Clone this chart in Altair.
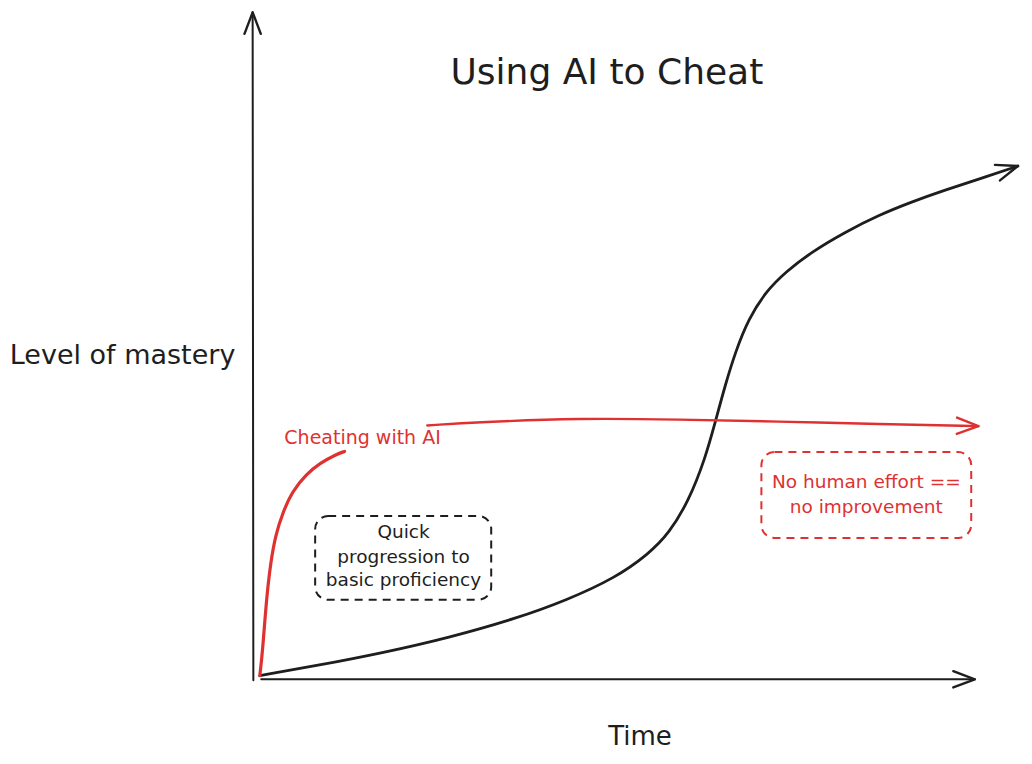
import altair as alt
import pandas as pd

# ---- data (time units on x, mastery units on y) ----
black_t = [0.6, 8.5, 17.6, 26.9, 36.3, 43.2, 50.1, 54.7, 57.5, 60.3, 62.6, 64.0, 65.4,
           66.8, 68.6, 71.0, 73.8, 77.4, 82.1, 86.7, 91.3, 96.0, 100.6, 106.1]
black_m = [0.4, 1.9, 3.8, 6.1, 9.0, 11.7, 15.1, 18.7, 21.7, 26.7, 33.1, 38.6, 44.2,
           49.1, 54.0, 58.1, 61.1, 64.1, 67.1, 69.6, 71.6, 73.4, 75.0, 77.0]

red1_t = [0.6, 1.0, 1.5, 2.1, 2.8, 3.8, 5.1, 7.1, 8.9, 11.3, 12.4]
red1_m = [0.4, 4.2, 11.7, 17.4, 21.6, 24.9, 28.1, 30.7, 32.3, 33.7, 34.1]
red2_t = [23.9, 31.1, 45.0, 58.9, 72.8, 86.7, 100.6]
red2_m = [38.0, 38.5, 39.1, 38.9, 38.6, 38.2, 37.9]

axis_x_t = [0.8, 100.1]
axis_x_m = [-0.15, -0.15]
axis_y_t = [-0.3, -0.4]
axis_y_m = [-0.3, 100.1]

arrow_t = [106.1, 100.6, 100.1, -0.4]
arrow_m = [77.0, 37.9, -0.15, 100.1]
arrow_angle = [342, 1, 0, 270]
arrow_color = ["#1e1e1e", "#e03131", "#1e1e1e", "#1e1e1e"]

label_text = ["Using AI to Cheat", "Level of mastery", "Time", "Cheating with AI",
              "Quick", "progression to", "basic proficiency",
              "No human effort ==", "no improvement"]
label_t = [48.9, -18.5, 53.5, 14.9, 20.6, 20.6, 20.6, 85.0, 85.0]
label_m = [91.0, 48.5, -8.8, 36.1, 22.0, 18.3, 14.7, 29.5, 25.8]
label_size = [36, 27, 26, 19, 18.5, 18.5, 18.5, 18.5, 18.5]
label_color = ["#1e1e1e", "#1e1e1e", "#1e1e1e", "#e03131", "#1e1e1e", "#1e1e1e",
               "#1e1e1e", "#e03131", "#e03131"]

box_t1 = [8.3, 70.4]
box_t2 = [32.8, 99.6]
box_m1 = [24.4, 34.0]
box_m2 = [11.8, 21.1]
box_color = ["#1e1e1e", "#e03131"]

# ---- scales ----
xs = alt.Scale(domain=[-34.444, 106.667], nice=False, zero=False)
ys = alt.Scale(domain=[-11.078, 100.299], nice=False, zero=False)


def X(f="t"):
    return alt.X(f"{f}:Q", scale=xs, axis=None)


def Y(f="m"):
    return alt.Y(f"{f}:Q", scale=ys, axis=None)


def curve(ts, ms):
    return pd.DataFrame({"t": ts, "m": ms, "i": range(len(ts))})


black = alt.Chart(curve(black_t, black_m)).mark_line(
    color="#1e1e1e", strokeWidth=2.8, interpolate="basis", strokeCap="round"
).encode(x=X(), y=Y(), order="i:Q")

red1 = alt.Chart(curve(red1_t, red1_m)).mark_line(
    color="#e03131", strokeWidth=3.2, interpolate="basis", strokeCap="round"
).encode(x=X(), y=Y(), order="i:Q")

red2 = alt.Chart(curve(red2_t, red2_m)).mark_line(
    color="#e03131", strokeWidth=2.4, interpolate="basis", strokeCap="round"
).encode(x=X(), y=Y(), order="i:Q")

ax_x = alt.Chart(curve(axis_x_t, axis_x_m)).mark_line(
    color="#1e1e1e", strokeWidth=2, strokeCap="round"
).encode(x=X(), y=Y(), order="i:Q")

ax_y = alt.Chart(curve(axis_y_t, axis_y_m)).mark_line(
    color="#1e1e1e", strokeWidth=2, strokeCap="round"
).encode(x=X(), y=Y(), order="i:Q")

arrows = alt.Chart(pd.DataFrame({
    "t": arrow_t, "m": arrow_m, "a": arrow_angle, "c": arrow_color
})).mark_point(
    shape="M-1,-0.38L0,0L-1,0.38", filled=False, size=1850, strokeWidth=2.4,
    strokeCap="round", strokeJoin="round", opacity=1
).encode(
    x=X(), y=Y(),
    angle=alt.Angle("a:Q", scale=None),
    color=alt.Color("c:N", scale=None),
)

boxes = alt.Chart(pd.DataFrame({
    "t1": box_t1, "t2": box_t2, "m1": box_m1, "m2": box_m2, "c": box_color
})).mark_rect(
    fillOpacity=0, strokeWidth=2, strokeDash=[8, 6], cornerRadius=13
).encode(
    x=X("t1"), x2="t2:Q", y=Y("m1"), y2="m2:Q",
    stroke=alt.Stroke("c:N", scale=None),
)

labels = alt.Chart(pd.DataFrame({
    "txt": label_text, "t": label_t, "m": label_m, "s": label_size, "c": label_color
})).mark_text(
    font="DejaVu Sans", align="center", baseline="middle"
).encode(
    x=X(), y=Y(), text="txt:N",
    size=alt.Size("s:Q", scale=None),
    color=alt.Color("c:N", scale=None),
)

chart = alt.layer(boxes, ax_x, ax_y, black, red1, red2, arrows, labels).properties(
    width=1016, height=744, padding=0, background="white",
    autosize=alt.AutoSizeParams(type="fit", contains="padding"),
).configure_view(stroke=None)

chart.save("out.html", embed_options={"renderer": "svg", "actions": False})
